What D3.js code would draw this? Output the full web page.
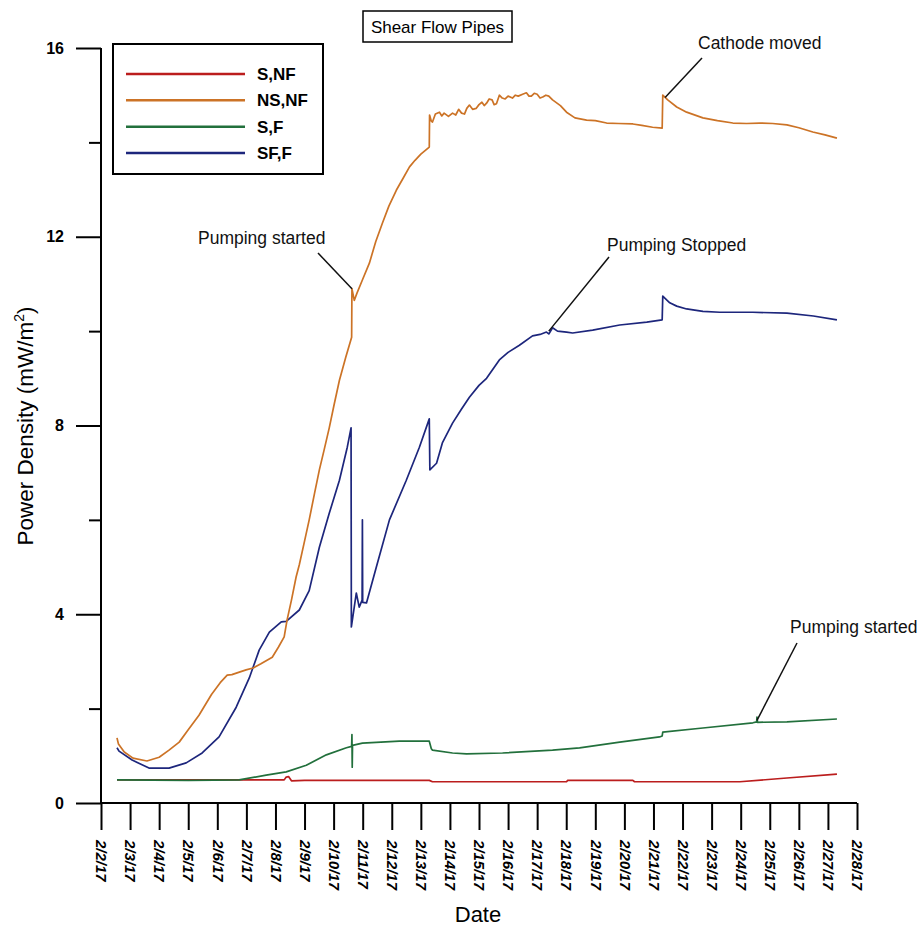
<!DOCTYPE html>
<html>
<head>
<meta charset="utf-8">
<script src="https://cdn.jsdelivr.net/npm/d3@7"></script>
<style>
  body { margin: 0; background: #fff; }
  svg { display: block; font-family: "Liberation Sans", Arial, sans-serif; }
</style>
</head>
<body>
<svg id="chart" width="919" height="926"></svg>
<script>
// ---- Data (day of February 2017, power density mW/m^2) ----
const seriesNames = ["S,NF", "NS,NF", "S,F", "SF,F"];

const sNF = [[2.55,0.49],[8.3,0.49],[8.37,0.55],[8.45,0.56],[8.55,0.47],[9.0,0.48],[13.29,0.48],[13.40,0.45],[18.01,0.45],[18.05,0.48],[20.29,0.48],[20.35,0.45],[23.97,0.45],[25.59,0.53],[27.31,0.61]];

const nsNF = [[2.55,1.38],[2.60,1.25],[2.8,1.08],[3.1,0.95],[3.58,0.89],[4.0,0.97],[4.34,1.12],[4.69,1.29],[5.0,1.55],[5.37,1.86],[5.8,2.3],[6.1,2.55],[6.34,2.71],[6.5,2.72],[6.99,2.82],[7.23,2.86],[7.5,2.95],[7.89,3.09],[8.1,3.3],[8.30,3.52],[8.40,3.88],[8.55,4.3],[8.71,4.79],[8.82,5.05],[9.0,5.55],[9.16,6.0],[9.34,6.55],[9.51,7.06],[9.68,7.5],[9.85,7.95],[10.02,8.45],[10.2,8.96],[10.42,9.45],[10.62,9.87],[10.63,10.9],[10.71,10.65],[10.8,10.8],[11.0,11.1],[11.23,11.44],[11.45,11.9],[11.68,12.29],[11.9,12.65],[12.16,12.99],[12.4,13.25],[12.61,13.48],[12.8,13.62],[13.0,13.75],[13.29,13.9],[13.30,14.58],[13.36,14.45],[13.40,14.43],[13.5,14.6],[13.64,14.64],[13.72,14.56],[13.8,14.62],[13.95,14.55],[14.09,14.62],[14.2,14.58],[14.3,14.7],[14.4,14.62],[14.5,14.6],[14.58,14.72],[14.67,14.79],[14.78,14.7],[14.9,14.72],[15.0,14.8],[15.1,14.85],[15.18,14.78],[15.26,14.83],[15.35,14.92],[15.45,14.9],[15.52,14.8],[15.6,14.82],[15.70,15.0],[15.8,14.94],[15.9,14.92],[16.0,14.98],[16.15,14.94],[16.25,15.0],[16.35,14.98],[16.5,15.02],[16.63,15.05],[16.72,14.98],[16.8,14.98],[16.9,15.04],[17.0,15.02],[17.1,14.94],[17.19,14.96],[17.3,15.0],[17.4,14.98],[17.53,14.9],[17.8,14.78],[18.01,14.64],[18.3,14.52],[18.70,14.47],[19.0,14.46],[19.39,14.41],[19.8,14.4],[20.29,14.39],[20.6,14.36],[20.97,14.32],[21.30,14.30],[21.32,15.0],[21.49,14.9],[21.8,14.75],[22.14,14.64],[22.70,14.52],[23.2,14.46],[23.73,14.41],[24.2,14.4],[24.66,14.41],[25.1,14.4],[25.59,14.37],[26.0,14.31],[26.48,14.22],[26.9,14.16],[27.31,14.09]];

const sF = [[2.55,0.49],[5.0,0.48],[6.75,0.49],[7.68,0.59],[8.37,0.66],[9.06,0.8],[9.75,1.02],[10.44,1.17],[10.62,1.2],[10.63,1.45],[10.64,0.76],[10.65,1.22],[10.99,1.27],[12.26,1.31],[13.29,1.31],[13.36,1.15],[13.40,1.12],[14.09,1.06],[14.57,1.04],[15.81,1.06],[17.53,1.12],[18.46,1.17],[19.84,1.29],[21.21,1.4],[21.30,1.42],[21.32,1.5],[22.70,1.59],[24.42,1.7],[24.55,1.72],[24.56,1.82],[24.58,1.71],[25.59,1.72],[27.31,1.78]];

const sfF = [[2.55,1.17],[2.62,1.1],[3.07,0.91],[3.65,0.74],[4.34,0.74],[4.93,0.85],[5.48,1.06],[6.06,1.4],[6.65,2.03],[7.10,2.65],[7.44,3.24],[7.79,3.62],[8.20,3.84],[8.37,3.85],[8.82,4.09],[9.16,4.5],[9.51,5.42],[9.85,6.14],[10.20,6.84],[10.47,7.54],[10.60,7.95],[10.61,3.73],[10.71,4.15],[10.78,4.45],[10.88,4.15],[10.98,4.3],[10.99,6.0],[11.00,4.25],[11.13,4.24],[11.47,5.0],[11.92,6.0],[12.50,6.84],[12.95,7.54],[13.29,8.14],[13.31,7.06],[13.54,7.2],[13.74,7.63],[14.09,8.05],[14.4,8.35],[14.67,8.6],[15.0,8.85],[15.26,9.0],[15.70,9.39],[16.0,9.55],[16.39,9.7],[16.84,9.9],[17.1,9.93],[17.32,9.98],[17.4,9.94],[17.53,10.07],[17.7,10.0],[18.01,9.98],[18.22,9.96],[18.91,10.02],[19.84,10.13],[20.77,10.19],[21.30,10.24],[21.32,10.74],[21.56,10.6],[21.8,10.53],[22.14,10.47],[22.7,10.42],[23.28,10.4],[24.42,10.4],[25.59,10.38],[26.5,10.32],[27.31,10.24]];

const xTickDays = d3.range(2, 29);
const xTickLabels = xTickDays.map(d => "2/" + d + "/17");
const yMajorTicks = [0, 4, 8, 12, 16];
const yMinorTicks = [2, 6, 10, 14];

const annotations = [
  { text: "Pumping started", day: 10.63, value: 10.9 },
  { text: "Pumping Stopped", day: 17.4, value: 10.0 },
  { text: "Cathode moved", day: 21.4, value: 14.95 },
  { text: "Pumping started", day: 24.56, value: 1.75 }
];

// ---- Layout / style ----
const colors = ["#bb1d1d", "#cc7326", "#22703c", "#1d267c"];
const annotLayout = [
  { tx: 198, ty: 244, lx: 318, ly: 253 },
  { tx: 607, ty: 251, lx: 609, ly: 257 },
  { tx: 698, ty: 49, lx: 702, ly: 58 },
  { tx: 790, ty: 633, lx: 797, ly: 643 }
];

const svg = d3.select("#chart");
const x = d3.scaleLinear().domain([2, 28]).range([101, 857]);
const y = d3.scaleLinear().domain([0, 16]).range([803, 48]);

// X axis
const xAxis = d3.axisBottom(x).tickValues(xTickDays).tickSize(27).tickPadding(0)
  .tickFormat((d, i) => xTickLabels[i]);
const gx = svg.append("g").attr("transform", "translate(0,803)").call(xAxis);
gx.select(".domain").attr("d", `M${x(2)},0H${x(28)}`).attr("stroke", "#000").attr("stroke-width", 2);
gx.selectAll(".tick line").attr("stroke", "#000").attr("stroke-width", 2);
gx.selectAll(".tick text")
  .attr("transform", "rotate(90)")
  .attr("x", 37).attr("y", 0).attr("dy", "0.35em")
  .attr("text-anchor", "start")
  .attr("font-size", 15).attr("font-weight", "bold").attr("font-style", "italic")
  .attr("fill", "#000");

// Y axis
const yAxis = d3.axisLeft(y).tickValues(yMajorTicks).tickSize(25).tickPadding(12).tickFormat(d3.format("d"));
const gy = svg.append("g").attr("transform", "translate(101,0)").call(yAxis);
gy.select(".domain").attr("d", `M0,${y(0)}V${y(16)}`).attr("stroke", "#000").attr("stroke-width", 2);
gy.selectAll(".tick line").attr("stroke", "#000").attr("stroke-width", 2);
gy.selectAll(".tick text").attr("font-size", 16).attr("font-weight", "bold").attr("fill", "#000");
const yMinor = d3.axisLeft(y).tickValues(yMinorTicks).tickSize(12).tickFormat("");
const gym = svg.append("g").attr("transform", "translate(101,0)").call(yMinor);
gym.select(".domain").remove();
gym.selectAll(".tick line").attr("stroke", "#000").attr("stroke-width", 2);

// Axis titles
svg.append("text").attr("x", 478).attr("y", 922).attr("text-anchor", "middle")
  .attr("font-size", 22).text("Date");
const yl = svg.append("text").attr("transform", "translate(33,426) rotate(-90)")
  .attr("text-anchor", "middle").attr("font-size", 22.5);
yl.append("tspan").text("Power Density (mW/m");
yl.append("tspan").attr("font-size", 14).attr("dy", -9).text("2");
yl.append("tspan").attr("dy", 9).text(")");

// Lines
const line = d3.line().x(d => x(d[0])).y(d => y(d[1]));
const allSeries = [sNF, nsNF, sF, sfF];
const drawOrder = [0, 2, 3, 1];
drawOrder.forEach(i => {
  svg.append("path").datum(allSeries[i])
    .attr("d", line).attr("fill", "none")
    .attr("stroke", colors[i]).attr("stroke-width", 1.7)
    .attr("stroke-linejoin", "round");
});

// Annotations
annotations.forEach((a, i) => {
  const L = annotLayout[i];
  svg.append("line").attr("x1", L.lx).attr("y1", L.ly)
    .attr("x2", x(a.day)).attr("y2", y(a.value))
    .attr("stroke", "#111").attr("stroke-width", 1.5);
  svg.append("text").attr("x", L.tx).attr("y", L.ty)
    .attr("font-size", 17.5).attr("fill", "#111").text(a.text);
});

// Title
svg.append("rect").attr("x", 363).attr("y", 11).attr("width", 149).attr("height", 31)
  .attr("fill", "#fff").attr("stroke", "#000").attr("stroke-width", 1.5);
svg.append("text").attr("x", 437.5).attr("y", 32.5).attr("text-anchor", "middle")
  .attr("font-size", 17).text("Shear Flow Pipes");

// Legend
const lg = svg.append("g");
lg.append("rect").attr("x", 113).attr("y", 44).attr("width", 210).attr("height", 130)
  .attr("fill", "#fff").attr("stroke", "#000").attr("stroke-width", 2);
const legendY = d3.scalePoint().domain(seriesNames).range([74, 153]);
seriesNames.forEach((n, i) => {
  lg.append("line").attr("x1", 126).attr("x2", 245)
    .attr("y1", legendY(n)).attr("y2", legendY(n))
    .attr("stroke", colors[i]).attr("stroke-width", 2.5);
  lg.append("text").attr("x", 257).attr("y", legendY(n)).attr("dy", "0.36em")
    .attr("font-size", 17).attr("font-weight", "bold").text(n);
});
</script>
</body>
</html>
